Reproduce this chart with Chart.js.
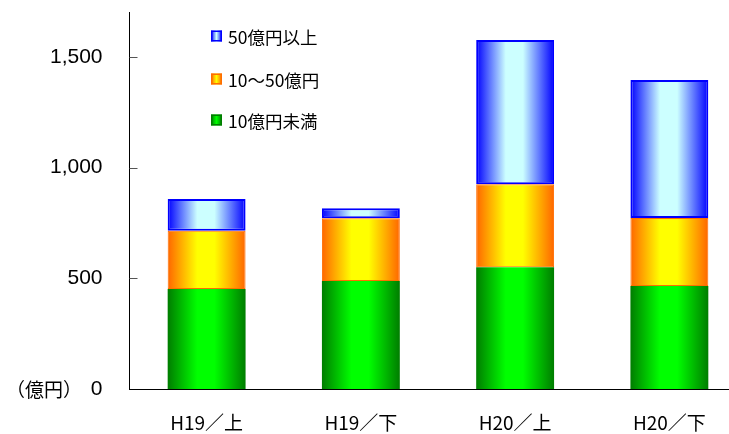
<!DOCTYPE html>
<html lang="ja">
<head>
<meta charset="utf-8">
<title>規模別 推移</title>
<script src="https://cdn.jsdelivr.net/npm/chart.js@4.4.1/dist/chart.umd.min.js"></script>
<style>
  html, body { margin: 0; padding: 0; background: #fff; overflow: hidden; }
  #wrap { width: 760px; height: 434px; }
</style>
</head>
<body>
<div id="wrap"><canvas id="c" width="760" height="434"></canvas></div>
<script>
// Half-year periods
const categories = ['H19／上', 'H19／下', 'H20／上', 'H20／下'];
// Amounts by size band (億円)
const under10 = [452, 488, 550, 465];      // 10億円未満
const from10to50 = [263, 283, 375, 307];   // 10～50億円
const over50 = [143, 45, 651, 624];        // 50億円以上
// Y axis
const yTicks = [0, 500, 1000, 1500];
const yMax = 1700;
const unitLabel = '（億円）';

const BAR_PCT = 0.505;
const CJK = '"Noto Sans CJK JP", "Noto Sans", sans-serif';

// Horizontal "from centre" shading across each bar
function shade(edge, mid) {
  return (ctx) => {
    const chart = ctx.chart;
    const xs = chart.scales && chart.scales.x;
    if (!chart.chartArea || !xs || ctx.dataIndex === undefined || !xs.ticks.length) return edge;
    const c = xs.getPixelForValue(ctx.dataIndex);
    const w = (xs.width / xs.ticks.length) * BAR_PCT;
    const g = chart.ctx.createLinearGradient(c - w / 2, 0, c + w / 2, 0);
    g.addColorStop(0, edge);
    g.addColorStop(0.38, mid);
    g.addColorStop(0.6, mid);
    g.addColorStop(1, edge);
    return g;
  };
}

const series = [
  { label: '10億円未満', data: under10, edge: 'rgb(0,125,0)', mid: 'rgb(0,255,0)', border: 'rgb(0,125,0)', bw: 0 },
  { label: '10～50億円', data: from10to50, edge: 'rgb(255,102,0)', mid: 'rgb(255,255,0)', border: 'rgb(255,110,0)', bw: 1 },
  { label: '50億円以上', data: over50, edge: 'rgb(0,0,255)', mid: 'rgb(204,255,255)', border: 'rgb(0,0,255)', bw: 2 }
];

// Legend drawn inside the plot, top item first
const legendPlugin = {
  id: 'insideLegend',
  afterDraw(chart) {
    const ctx = chart.ctx;
    const rows = [series[2], series[1], series[0]];
    const ys = [36, 79, 120];
    ctx.save();
    rows.forEach((s, i) => {
      const x = 211, y = ys[i] - 5.5, sz = 11;
      const g = ctx.createLinearGradient(x, 0, x + sz, 0);
      g.addColorStop(0, s.edge); g.addColorStop(0.5, s.mid); g.addColorStop(1, s.edge);
      ctx.fillStyle = g;
      ctx.fillRect(x, y, sz, sz);
      ctx.strokeStyle = s.border;
      ctx.lineWidth = 1.5;
      ctx.strokeRect(x + 0.75, y + 0.75, sz - 1.5, sz - 1.5);
      ctx.fillStyle = '#000';
      ctx.font = '17.5px ' + CJK;
      ctx.textAlign = 'left';
      ctx.textBaseline = 'middle';
      ctx.fillText(s.label, 228, ys[i] + 1);
    });
    ctx.restore();
  }
};

// Short inward tick marks on the value axis, plus the unit label
const axisExtras = {
  id: 'axisExtras',
  afterDraw(chart) {
    const ctx = chart.ctx;
    const y = chart.scales.y;
    const left = chart.chartArea.left;
    ctx.save();
    ctx.strokeStyle = '#555';
    ctx.lineWidth = 1;
    y.ticks.forEach(t => {
      if (t.value === 0) return;
      const py = Math.round(y.getPixelForValue(t.value)) + 0.5;
      ctx.beginPath();
      ctx.moveTo(left, py);
      ctx.lineTo(left + 8, py);
      ctx.stroke();
    });
    ctx.fillStyle = '#000';
    ctx.font = '19px ' + CJK;
    ctx.textAlign = 'center';
    ctx.textBaseline = 'middle';
    ctx.fillText(unitLabel, 44, y.getPixelForValue(0) + 1);
    ctx.restore();
  }
};

new Chart(document.getElementById('c'), {
  type: 'bar',
  data: {
    labels: categories,
    datasets: series.map(s => ({
      label: s.label,
      data: s.data,
      backgroundColor: shade(s.edge, s.mid),
      borderColor: s.border,
      borderWidth: s.bw,
      borderSkipped: false,
      categoryPercentage: 1,
      barPercentage: BAR_PCT
    }))
  },
  options: {
    responsive: false,
    animation: false,
    events: [],
    layout: { padding: { top: 12.6, right: 13.5, left: 0, bottom: 0 } },
    plugins: { legend: { display: false }, tooltip: { enabled: false } },
    scales: {
      x: {
        stacked: true,
        grid: { display: false, drawTicks: false },
        border: { display: true, color: '#000', width: 1 },
        ticks: { color: '#000', padding: 22, maxRotation: 0, font: { family: CJK, size: 19 } },
        afterFit(scale) { scale.height = 45; scale.paddingLeft = 0; scale.paddingRight = 0; }
      },
      y: {
        stacked: true,
        min: 0,
        max: yMax,
        grid: { display: false, drawTicks: false },
        border: { display: true, color: '#000', width: 1 },
        afterBuildTicks(scale) { scale.ticks = yTicks.map(v => ({ value: v })); },
        ticks: {
          color: '#000',
          padding: 27,
          font: { family: '"Liberation Sans", Arial, sans-serif', size: 21 },
          callback: v => v.toLocaleString('en-US')
        },
        afterFit(scale) { scale.width = 129.5; scale.paddingTop = 0; scale.paddingBottom = 0; }
      }
    }
  },
  plugins: [legendPlugin, axisExtras]
});
</script>
</body>
</html>
